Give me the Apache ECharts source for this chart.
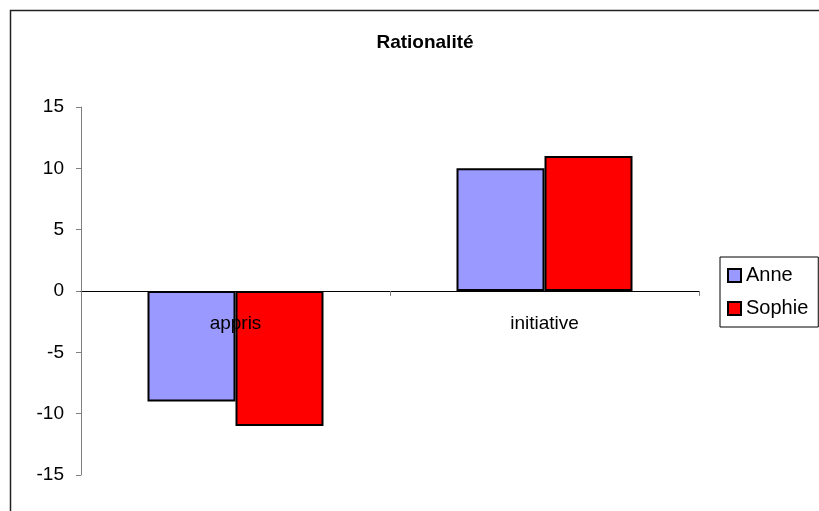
<!DOCTYPE html>
<html><head><meta charset="utf-8">
<script src="https://cdn.jsdelivr.net/npm/echarts@6/dist/echarts.min.js"></script>
<style>html,body{margin:0;padding:0;background:#fff}#c{width:819px;height:511px}</style>
</head><body><div id="c"></div>
<script>
const categories = ['appris', 'initiative'];
const anne = [-9, 10];
const sophie = [-11, 11];
const yMin = -15, yMax = 15, yStep = 5;

const FONT = 'Liberation Sans, Arial, sans-serif';
const chart = echarts.init(document.getElementById('c'));
chart.setOption({
  animation: false,
  backgroundColor: '#fff',
  textStyle: {fontFamily: FONT},
  graphic: [{type: 'rect', z: 100, shape: {x: 10.5, y: 10.5, width: 830, height: 530}, style: {fill: 'none', stroke: '#222', lineWidth: 1.5}, silent: true}],
  title: {text: 'Rationalité', left: 420, top: 28, textAlign: 'center',
    textStyle: {fontSize: 19, fontWeight: 'bold', color: '#000', fontFamily: FONT}},
  legend: {orient: 'vertical', left: 720, top: 257, padding: [8, 10, 8, 7],
    borderColor: '#000', borderWidth: 1, itemWidth: 13, itemHeight: 13, icon: 'rect',
    itemGap: 12, itemTextGap: 6,
    textStyle: {fontSize: 20, color: '#000', fontFamily: FONT, lineHeight: 21},
    data: ['Anne', 'Sophie']},
  grid: {left: 81, right: 120, top: 107, bottom: 36},
  xAxis: {type: 'category', data: categories, z: 10,
    axisLine: {onZero: true, lineStyle: {color: '#000', width: 1}},
    axisTick: {show: true, length: 5, lineStyle: {color: '#808080'}},
    axisLabel: {margin: -161, fontSize: 19, color: '#000'}},
  yAxis: {type: 'value', min: yMin, max: yMax, interval: yStep,
    axisLine: {show: true, lineStyle: {color: '#808080', width: 1}},
    axisTick: {show: true, length: 5, lineStyle: {color: '#808080'}},
    axisLabel: {margin: 17, fontSize: 19, color: '#000'},
    splitLine: {show: false}},
  series: [
    {name: 'Anne', type: 'bar', data: anne, barWidth: 88, barGap: '0%',
      itemStyle: {color: '#9999FF', borderColor: '#000', borderWidth: 2}},
    {name: 'Sophie', type: 'bar', data: sophie, barWidth: 88, barGap: '0%',
      itemStyle: {color: '#FF0000', borderColor: '#000', borderWidth: 2}}
  ]
});
</script></body></html>
